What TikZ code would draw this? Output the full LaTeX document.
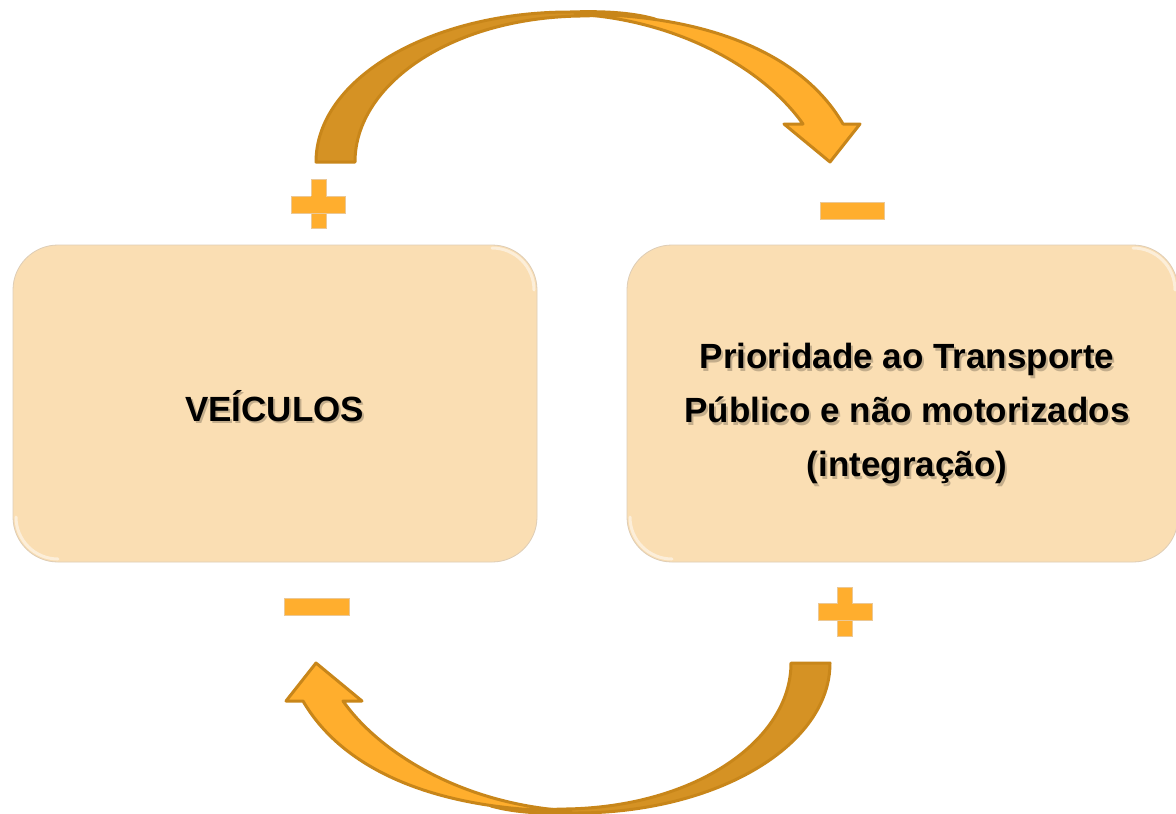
\documentclass[tikz,border=0pt]{standalone}
\usepackage{fontspec}
\setmainfont{Liberation Sans}
\definecolor{boxfill}{RGB}{250,222,179}
\definecolor{boxline}{RGB}{222,205,182}
\definecolor{arrowdark}{RGB}{213,146,36}
\definecolor{arrowbright}{RGB}{255,174,45}
\definecolor{arrowline}{RGB}{200,134,26}
\definecolor{signcol}{RGB}{255,174,46}
\definecolor{signline}{RGB}{235,200,150}
\tikzset{
  box/.style={draw=boxline, line width=0.8pt, fill=boxfill, rounded corners=45pt, inner sep=0pt},
  boxtext/.style={font=\bfseries\fontsize{35}{54}\selectfont, text=black, align=center, inner sep=0pt},
  shadowtext/.style={boxtext, text=black, opacity=0.22},
  glow/.style={draw=white, line cap=round, line width=3pt, opacity=0.5},
  signshape/.style={fill=signcol, draw=signline, line width=0.4pt},
  arrowback/.style={fill=arrowdark, draw=arrowline, line width=3pt, line join=round},
  arrowfront/.style={fill=arrowbright, draw=arrowline, line width=3pt, line join=round},
  pics/looparrow/.style={code={
    \filldraw[arrowback] (355,162) .. controls (355,85) and (450,18) .. (580,16)
        .. controls (610,15) and (635,16) .. (655,19)
        .. controls (630,12) and (600,11) .. (570,12)
        .. controls (430,12) and (316,79) .. (316,162) -- cycle;
    \filldraw[arrowfront] (843,124) .. controls (800,50) and (700,14) .. (575,14)
        .. controls (680,20) and (765,70) .. (803,124)
        -- (784,124) -- (830,162) -- (860,124) -- cycle;
  }}
}
\begin{document}
\begin{tikzpicture}[x=1pt,y=-1pt]
\useasboundingbox[fill=white] (0,0) rectangle (1176,814);

% boxes
\node[box, minimum width=524pt, minimum height=317pt] (veic) at (275,403.5) {};
\node[box, minimum width=551pt, minimum height=317pt] (prio) at (902.5,403.5) {};

% corner glows
\draw[glow] (492,248) arc[start angle=90, end angle=0, radius=42pt];
\draw[glow] (16,517) arc[start angle=180, end angle=270, radius=42pt];
\draw[glow] (1133,248) arc[start angle=90, end angle=0, radius=42pt];
\draw[glow] (630,517) arc[start angle=180, end angle=270, radius=42pt];

% texts
\node[shadowtext, anchor=base] (veicshadow) at (276.5,423.5) {VEÍCULOS};
\node[boxtext, anchor=base] (veictext) at (274.5,421) {VEÍCULOS};
\node[shadowtext] (prioshadow) at (909,416.5) {Prioridade ao Transporte\\Público e não motorizados\\(integração)};
\node[boxtext] (priotext) at (907,414) {Prioridade ao Transporte\\Público e não motorizados\\(integração)};

% arrows
\pic at (0,0) {looparrow};
\pic[rotate=180] at (1146,825) {looparrow};

% signs
\fill[signshape] (311,179) rectangle (326,228);
\fill[signshape] (291,196) rectangle (345,213);
\fill[signcol] (311.4,196.4) rectangle (325.6,212.6);

\filldraw[signshape] (820,202) rectangle (884,219);

\filldraw[signshape] (284,598) rectangle (349,615);

\fill[signshape] (837.5,587) rectangle (852.5,636);
\fill[signshape] (818,603) rectangle (872,620);
\fill[signcol] (837.9,603.4) rectangle (852.1,619.6);
\end{tikzpicture}
\end{document}
